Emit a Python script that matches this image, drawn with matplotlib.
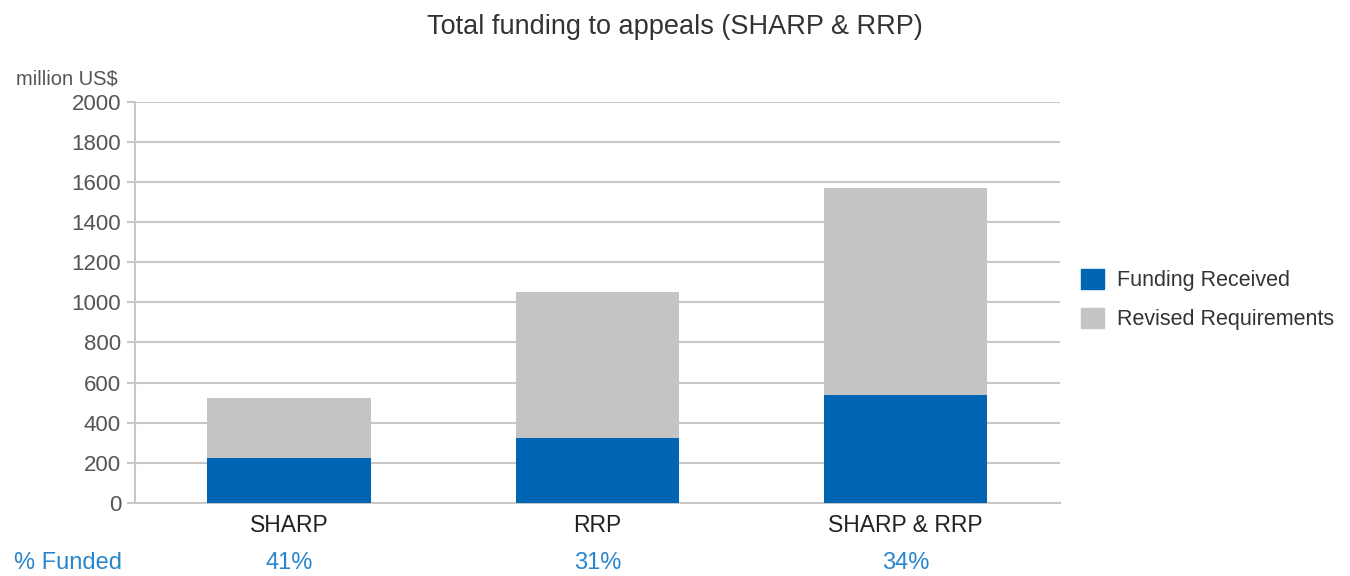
import matplotlib.pyplot as plt
from matplotlib.patches import Patch

plt.rcParams["font.family"] = ["Liberation Sans", "DejaVu Sans"]

categories = ["SHARP", "RRP", "SHARP & RRP"]
requirements = [525, 1052, 1570]
received = [224, 324, 539]
pct_funded = ["41%", "31%", "34%"]

blue = "#0066b3"
gray = "#c4c4c4"
pct_color = "#2a86cc"
text_color = "#555555"

fig = plt.figure(figsize=(13.5, 5.76), dpi=100)
ax = fig.add_axes([0.1, 0.127, 0.685, 0.696])

x = range(len(categories))
ax.bar(x, requirements, width=0.53, color=gray, zorder=2)
ax.bar(x, received, width=0.53, color=blue, zorder=3)

ax.set_xlim(-0.5, 2.5)
ax.set_ylim(0, 2000)
ax.set_yticks(range(0, 2001, 200))
ax.yaxis.grid(True, color="#c8c8c8", linewidth=1.5, zorder=0)
ax.tick_params(axis="y", colors="#c8c8c8", labelcolor=text_color, labelsize=16,
               length=6, width=1.5, pad=4)
ax.tick_params(axis="x", length=0, labelsize=16.5, labelcolor="#222222", pad=8)
ax.set_xticks(list(x))
ax.set_xticklabels(categories)

for side in ["top", "right"]:
    ax.spines[side].set_visible(False)
for side in ["left", "bottom"]:
    ax.spines[side].set_color("#c8c8c8")
    ax.spines[side].set_linewidth(1.5)

fig.text(0.5, 0.953, "Total funding to appeals (SHARP & RRP)", ha="center", va="center",
         fontsize=19.5, color="#333333")
fig.text(0.012, 0.863, "million US$", ha="left", va="center", fontsize=14.5, color=text_color)

fig.text(0.01, 0.022, "% Funded", ha="left", va="center", fontsize=17, color=pct_color)
for i, p in enumerate(pct_funded):
    xf = ax.transData.transform((i, 0))[0]
    xf = fig.transFigure.inverted().transform((xf, 0))[0]
    fig.text(xf, 0.022, p, ha="center", va="center", fontsize=17, color=pct_color)

handles = [Patch(color=blue), Patch(color=gray)]
fig.legend(handles, ["Funding Received", "Revised Requirements"], loc="center left",
           bbox_to_anchor=(0.801, 0.48), frameon=False, fontsize=15.5,
           borderpad=0, borderaxespad=0,
           handlelength=1.05, handleheight=1.05, handletextpad=0.6,
           labelcolor="#333333", labelspacing=0.75)

fig.savefig("out.png", dpi=100)
